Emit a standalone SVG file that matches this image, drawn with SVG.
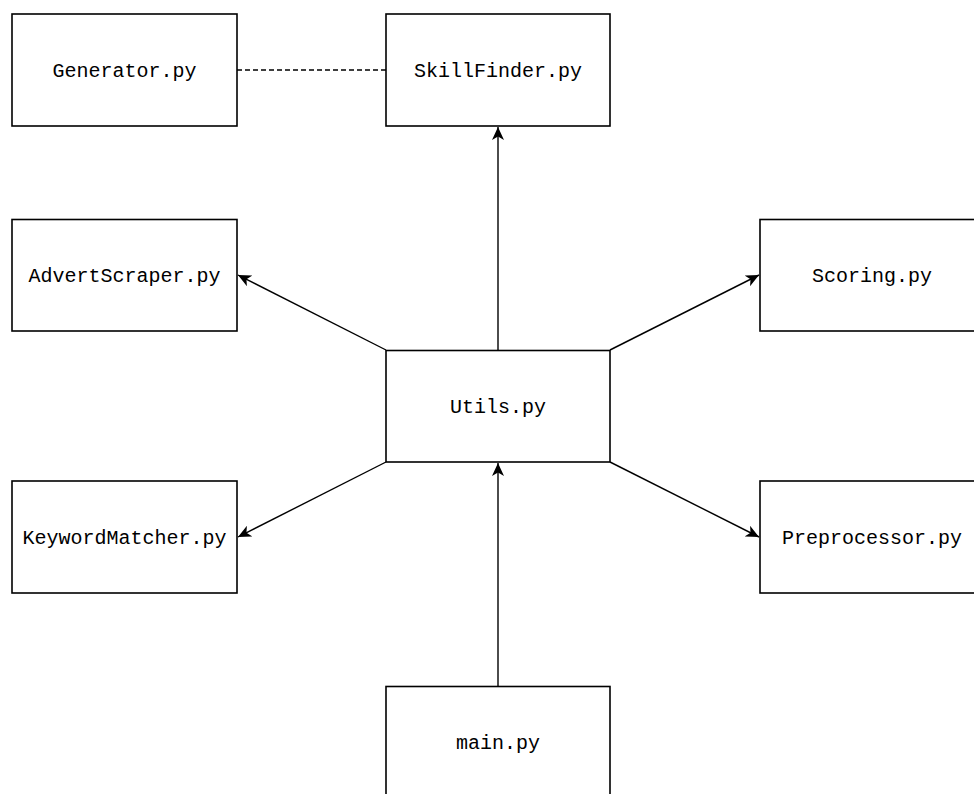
<svg xmlns="http://www.w3.org/2000/svg" width="974" height="794" viewBox="0 0 974 794">
<style>
.box{fill:#fff;stroke:#000;stroke-width:1.6}
.lbl{font-family:"Liberation Mono","Courier New",monospace;font-size:20px;fill:#000;text-anchor:middle;dominant-baseline:central}
.ln{fill:none;stroke:#000;stroke-width:1.4}
</style>
<defs>
<marker id="arr" markerUnits="userSpaceOnUse" markerWidth="14" markerHeight="12" viewBox="0 0 14 12" refX="13" refY="6" orient="auto">
<path d="M0,0 L13,6 L0,12 L3.5,6 z" fill="#000"/>
</marker>
</defs>
<rect width="974" height="794" fill="#fff"/>
<g id="connectors">
<line class="ln" x1="237" y1="70" x2="386" y2="70" stroke-dasharray="5,3"/>
<line class="ln" x1="498" y1="350" x2="498" y2="127" marker-end="url(#arr)"/>
<line class="ln" x1="386" y1="350" x2="238" y2="275" marker-end="url(#arr)"/>
<line class="ln" x1="610" y1="350" x2="759" y2="275" marker-end="url(#arr)"/>
<line class="ln" x1="386" y1="462" x2="238" y2="537" marker-end="url(#arr)"/>
<line class="ln" x1="610" y1="462" x2="759" y2="537" marker-end="url(#arr)"/>
<line class="ln" x1="498" y1="686" x2="498" y2="463" marker-end="url(#arr)"/>
</g>
<g id="generator"><rect class="box" x="12" y="14" width="225" height="112"/><text class="lbl" x="124.5" y="71">Generator.py</text></g>
<g id="skillfinder"><rect class="box" x="386" y="14" width="224" height="112"/><text class="lbl" x="498" y="71">SkillFinder.py</text></g>
<g id="advertscraper"><rect class="box" x="12" y="219.5" width="225" height="111.5"/><text class="lbl" x="124.5" y="276">AdvertScraper.py</text></g>
<g id="scoring"><rect class="box" x="760" y="219.5" width="225" height="111.5"/><text class="lbl" x="872" y="276">Scoring.py</text></g>
<g id="utils"><rect class="box" x="386" y="350.5" width="224" height="111.5"/><text class="lbl" x="498" y="407">Utils.py</text></g>
<g id="keywordmatcher"><rect class="box" x="12" y="481" width="225" height="112"/><text class="lbl" x="124.5" y="538">KeywordMatcher.py</text></g>
<g id="preprocessor"><rect class="box" x="760" y="481" width="225" height="112"/><text class="lbl" x="872" y="538">Preprocessor.py</text></g>
<g id="main"><rect class="box" x="386" y="686.5" width="224" height="112"/><text class="lbl" x="498" y="743">main.py</text></g>
</svg>
